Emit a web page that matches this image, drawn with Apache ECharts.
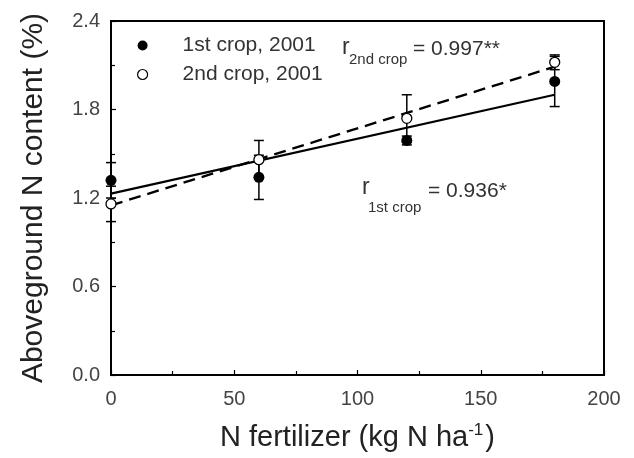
<!DOCTYPE html>
<html>
<head>
<meta charset="utf-8">
<script src="https://cdn.jsdelivr.net/npm/echarts@6/dist/echarts.min.js"></script>
<style>html,body{margin:0;padding:0;background:#fff}#c{width:634px;height:458px}</style>
</head>
<body>
<div id="c"></div>
<script>
// ---- data ----
var fertN = [0, 60, 120, 180];
var crop1 = [1.32, 1.34, 1.59, 1.99];
var crop1Err = [0.12, 0.15, 0.03, 0.17];
var crop2 = [1.16, 1.46, 1.74, 2.12];
var crop2Err = [0.12, 0.13, 0.16, 0.05];
var trend1 = [[0, 1.23], [180, 1.90]];
var trend2 = [[0, 1.15], [180, 2.09]];
var xTicks = [0, 50, 100, 150, 200];
var yTicks = [0.0, 0.6, 1.2, 1.8, 2.4];
var seriesNames = ['1st crop, 2001', '2nd crop, 2001'];

var FONT = '"Liberation Sans", Arial, sans-serif';

function pts(ys) { return fertN.map(function (x, i) { return [x, ys[i]]; }); }
function errData(ys, es) { return fertN.map(function (x, i) { return [x, ys[i] - es[i], ys[i] + es[i]]; }); }

function errRender(params, api) {
  var x = api.value(0);
  var lo = api.coord([x, api.value(1)]);
  var hi = api.coord([x, api.value(2)]);
  var w = 5;
  var st = { stroke: '#000', lineWidth: 1.5 };
  return {
    type: 'group',
    children: [
      { type: 'line', shape: { x1: lo[0], y1: lo[1], x2: hi[0], y2: hi[1] }, style: st },
      { type: 'line', shape: { x1: lo[0] - w, y1: lo[1], x2: lo[0] + w, y2: lo[1] }, style: st },
      { type: 'line', shape: { x1: hi[0] - w, y1: hi[1], x2: hi[0] + w, y2: hi[1] }, style: st }
    ]
  };
}

var chart = echarts.init(document.getElementById('c'), null, { renderer: 'canvas' });
chart.setOption({
  animation: false,
  backgroundColor: '#fff',
  grid: { left: 111, right: 30, top: 21, bottom: 83, show: true, borderColor: '#000', borderWidth: 2, backgroundColor: 'transparent' },
  legend: {
    data: [
      { name: seriesNames[0], icon: 'circle', itemStyle: { color: '#000' } },
      { name: seriesNames[1], icon: 'circle', itemStyle: { color: '#fff', borderColor: '#000', borderWidth: 1.2 } }
    ],
    orient: 'vertical', left: 132, top: 30, itemWidth: 10, itemHeight: 10, itemGap: 8,
    textStyle: { fontFamily: FONT, fontSize: 21, color: '#333', padding: [0, 0, 0, 30] }
  },
  xAxis: {
    type: 'value', min: xTicks[0], max: xTicks[xTicks.length - 1], interval: 50,
    name: '{a|N fertilizer (kg N ha}{s|-1}{a|)}', nameLocation: 'middle', nameGap: 47,
    nameTextStyle: { rich: {
      a: { fontFamily: FONT, fontSize: 29, color: '#222' },
      s: { fontFamily: FONT, fontSize: 17, color: '#222', verticalAlign: 'top', padding: [0, 2, 14, 0] }
    } },
    axisLine: { show: true, lineStyle: { color: '#000', width: 2 } },
    axisTick: { show: true, inside: true, length: 5, lineStyle: { color: '#000', width: 1.2 } },
    minorTick: { show: true, splitNumber: 2, length: 4, lineStyle: { color: '#000', width: 1.2 } },
    axisLabel: { fontFamily: FONT, fontSize: 20, color: '#444', margin: 14 },
    splitLine: { show: false }
  },
  yAxis: {
    type: 'value', min: yTicks[0], max: yTicks[yTicks.length - 1], interval: 0.6,
    name: 'Aboveground N content (%)', nameLocation: 'middle', nameGap: 62,
    nameTextStyle: { fontFamily: FONT, fontSize: 30, color: '#222' },
    axisLine: { show: true, lineStyle: { color: '#000', width: 2 } },
    axisTick: { show: true, inside: true, length: 5, lineStyle: { color: '#000', width: 1.2 } },
    minorTick: { show: true, splitNumber: 2, length: 4, lineStyle: { color: '#000', width: 1.2 } },
    axisLabel: { fontFamily: FONT, fontSize: 20, color: '#444', margin: 11, formatter: function (v) { return v.toFixed(1); } },
    splitLine: { show: false }
  },
  series: [
    { type: 'line', data: trend1, symbol: 'none', lineStyle: { color: '#000', width: 2.2 }, z: 2, silent: true },
    { type: 'line', data: trend2, symbol: 'none', lineStyle: { color: '#000', width: 2.4, type: [12, 7] }, z: 2, silent: true },
    { type: 'custom', data: errData(crop1, crop1Err), renderItem: errRender, z: 3, silent: true },
    { type: 'custom', data: errData(crop2, crop2Err), renderItem: errRender, z: 3, silent: true },
    { name: seriesNames[0], type: 'scatter', data: pts(crop1), symbol: 'circle', symbolSize: 11, itemStyle: { color: '#000', opacity: 1 }, z: 5 },
    { name: seriesNames[1], type: 'scatter', data: pts(crop2), symbol: 'circle', symbolSize: 10, itemStyle: { color: '#fff', borderColor: '#000', borderWidth: 1.3, opacity: 1 }, z: 6 }
  ],
  graphic: [
    { type: 'text', x: 342, y: 48, style: { text: 'r', fontFamily: FONT, fontSize: 23, fill: '#333', verticalAlign: 'middle' } },
    { type: 'text', x: 349, y: 60, style: { text: '2nd crop', fontFamily: FONT, fontSize: 15, fill: '#333', verticalAlign: 'middle' } },
    { type: 'text', x: 413, y: 49, style: { text: '= 0.997**', fontFamily: FONT, fontSize: 21, fill: '#333', verticalAlign: 'middle' } },
    { type: 'text', x: 362, y: 188, style: { text: 'r', fontFamily: FONT, fontSize: 23, fill: '#333', verticalAlign: 'middle' } },
    { type: 'text', x: 368, y: 208, style: { text: '1st crop', fontFamily: FONT, fontSize: 15, fill: '#333', verticalAlign: 'middle' } },
    { type: 'text', x: 428, y: 191, style: { text: '= 0.936*', fontFamily: FONT, fontSize: 21, fill: '#333', verticalAlign: 'middle' } }
  ]
});
</script>
</body>
</html>
